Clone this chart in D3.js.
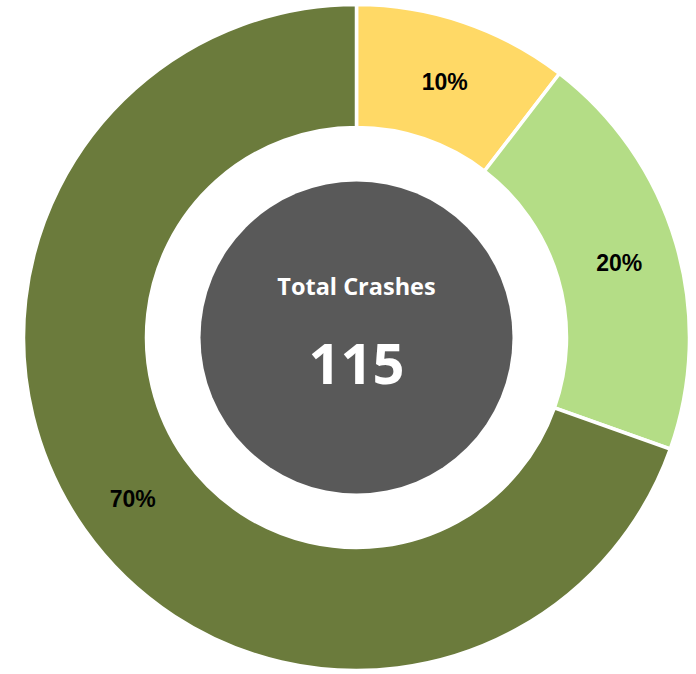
<!DOCTYPE html>
<html>
<head>
<meta charset="utf-8">
<script src="https://cdn.jsdelivr.net/npm/d3@7"></script>
<style>
  body { margin: 0; background: #fff; }
</style>
</head>
<body>
<div id="chart-container"></div>
<script>
// Chart data (crash counts per category, total 115)
const categories = ["A", "B", "C"];
const counts = [12, 23, 80];
const colors = ["#FFD966", "#B4DD86", "#6B7B3C"];
const centerTitle = "Total Crashes";
const totalCrashes = d3.sum(counts);

const width = 696;
const height = 674;
const cx = 356.5;
const cy = 337.5;
const outerR = 333;
const innerR = 210;
const holeR = 156;

const svg = d3.select("#chart-container")
    .append("svg")
        .attr("width", width)
        .attr("height", height)
    .append("g")
        .attr("transform", `translate(${cx},${cy})`);

const pie = d3.pie().sort(null).value(d => d);
const arcs = pie(counts);

const arc = d3.arc().innerRadius(innerR).outerRadius(outerR);
const labelArc = d3.arc().innerRadius(274).outerRadius(274);

// Donut slices
svg.selectAll("path")
    .data(arcs)
    .join("path")
      .attr("d", arc)
      .attr("fill", (d, i) => colors[i])
      .attr("stroke", "#fff")
      .attr("stroke-width", 3.5);

// Percent labels
svg.selectAll(".pct")
    .data(arcs)
    .join("text")
      .attr("class", "pct")
      .attr("transform", d => `translate(${labelArc.centroid(d)})`)
      .attr("text-anchor", "middle")
      .attr("dy", "0.5em")
      .style("font-family", "'Liberation Sans Narrow', 'Liberation Sans', sans-serif")
      .style("font-size", "23px")
      .style("font-weight", "bold")
      .style("fill", "#000")
      .text(d => `${Math.round(d.data / totalCrashes * 100)}%`);

// Center circle
svg.append("circle")
    .attr("r", holeR)
    .attr("fill", "#595959");

svg.append("text")
    .attr("y", -51)
    .attr("text-anchor", "middle")
    .attr("dy", "0.35em")
    .style("font-family", "'Open Sans', sans-serif")
    .style("font-size", "23.5px")
    .style("font-weight", "bold")
    .style("fill", "#fff")
    .text(centerTitle);

svg.append("text")
    .attr("y", 27)
    .attr("text-anchor", "middle")
    .attr("dy", "0.35em")
    .style("font-family", "'Open Sans', sans-serif")
    .style("font-size", "56px")
    .style("font-weight", "bold")
    .style("fill", "#fff")
    .text(totalCrashes);
</script>
</body>
</html>
